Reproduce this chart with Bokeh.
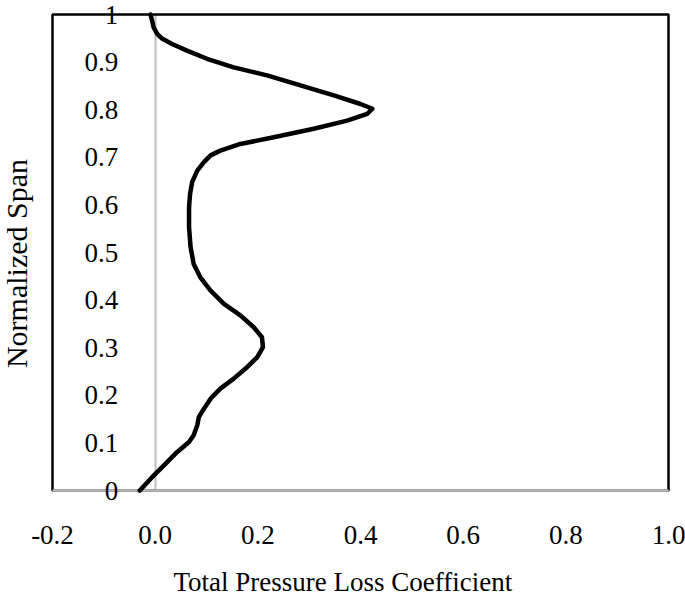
import math
from bokeh.plotting import figure
from bokeh.models import (LinearAxis, FixedTicker, Range1d, ColumnDataSource,
                          LabelSet, Label, BoxAnnotation)
from bokeh.embed import file_html
from bokeh.resources import INLINE

# Data (bottom to top)
span = [0.000, 0.028, 0.056, 0.081, 0.102, 0.116, 0.137, 0.154, 0.172, 0.193,
        0.214, 0.235, 0.259, 0.280, 0.301, 0.322, 0.343, 0.368, 0.392, 0.420,
        0.448, 0.476, 0.511, 0.553, 0.595, 0.623, 0.648, 0.672, 0.690, 0.704,
        0.714, 0.728, 0.742, 0.760, 0.777, 0.791, 0.802, 0.812, 0.830, 0.851,
        0.872, 0.889, 0.907, 0.924, 0.938, 0.949, 0.959, 0.973, 0.987, 1.000]
loss = [-0.030, -0.006, 0.020, 0.043, 0.066, 0.075, 0.082, 0.085, 0.095, 0.108,
        0.127, 0.153, 0.179, 0.199, 0.210, 0.208, 0.192, 0.166, 0.134, 0.108,
        0.088, 0.075, 0.069, 0.066, 0.066, 0.068, 0.072, 0.082, 0.095, 0.108,
        0.127, 0.166, 0.231, 0.309, 0.374, 0.413, 0.423, 0.400, 0.348, 0.283,
        0.218, 0.153, 0.101, 0.062, 0.033, 0.014, 0.004, -0.003, -0.006, -0.009]

x_min, x_max = -0.2, 1.0
y_min, y_max = 0.0, 1.0
x_ticks = [-0.2, 0.0, 0.2, 0.4, 0.6, 0.8, 1.0]
x_tick_labels = ["-0.2", "0.0", "0.2", "0.4", "0.6", "0.8", "1.0"]
y_ticks = [0, 0.1, 0.2, 0.3, 0.4, 0.5, 0.6, 0.7, 0.8, 0.9, 1.0]
y_tick_labels = ["0", "0.1", "0.2", "0.3", "0.4", "0.5", "0.6", "0.7", "0.8", "0.9", "1"]
y_axis_cross = 0.0
x_title = "Total Pressure Loss Coefficient"
y_title = "Normalized Span"

FONT = "Liberation Serif"
GRAY = "#bfbfbf"

# canvas geometry (pixels): plot box inside a full-canvas frame
W, H = 685, 600
LEFT_PX, RIGHT_PX, TOP_PX, BOTTOM_PX = 52, 17, 14, 110
xs = (x_max - x_min) / (W - LEFT_PX - RIGHT_PX)
ys = (y_max - y_min) / (H - TOP_PX - BOTTOM_PX)

p = figure(frame_width=W, frame_height=H, output_backend="svg", toolbar_location=None,
           x_range=Range1d(x_min - LEFT_PX * xs, x_max + RIGHT_PX * xs),
           y_range=Range1d(y_min - BOTTOM_PX * ys, y_max + TOP_PX * ys),
           x_axis_type=None, y_axis_type=None, min_border=0)
p.outline_line_color = None
p.background_fill_color = "white"
p.border_fill_color = "white"

# black plot-area box, then the gray horizontal axis line at y = 0 on top of it
p.add_layout(BoxAnnotation(left=x_min, right=x_max, bottom=y_min, top=y_max,
                           fill_alpha=0, line_color="black", line_alpha=1.0,
                           line_width=2.5, level="underlay"))
p.add_layout(BoxAnnotation(left=x_min, right=x_max, bottom=y_min, top=y_min,
                           fill_alpha=0, line_color=GRAY, line_alpha=1.0,
                           line_width=2.5, level="underlay"))

# gray vertical axis line at x = 0
ya = LinearAxis(ticker=FixedTicker(ticks=y_ticks), fixed_location=y_axis_cross, bounds=(y_min, y_max))
ya.axis_line_color = GRAY
ya.axis_line_width = 2
ya.major_tick_line_color = None
ya.minor_tick_line_color = None
ya.major_tick_out = 0
ya.major_tick_in = 0
ya.major_label_text_color = None
ya.major_label_text_font_size = "1px"
ya.level = "underlay"
p.add_layout(ya, "left")

# y tick labels next to the crossing axis
ysrc = ColumnDataSource(dict(x=[y_axis_cross] * len(y_ticks), y=y_ticks, t=y_tick_labels))
p.add_layout(LabelSet(x="x", y="y", text="t", source=ysrc, x_offset=-37,
                      text_align="right", text_baseline="middle",
                      text_font=FONT, text_font_size="27px", text_color="black"))

# x tick labels below the horizontal axis
xsrc = ColumnDataSource(dict(x=x_ticks, y=[y_min] * len(x_ticks), t=x_tick_labels))
p.add_layout(LabelSet(x="x", y="y", text="t", source=xsrc, y_offset=-44,
                      text_align="center", text_baseline="middle",
                      text_font=FONT, text_font_size="27px", text_color="black"))

p.line(loss, span, line_color="black", line_width=4.5, line_join="round", line_cap="round")

# axis titles
p.add_layout(Label(x=x_min, y=y_min, x_offset=121, y_offset=-91, text=x_title,
                   text_align="left", text_baseline="middle", text_font=FONT,
                   text_font_size="27px", text_color="black"))
p.add_layout(Label(x=x_min, y=y_min, x_offset=-36, y_offset=227, text=y_title,
                   angle=math.pi / 2, text_align="center", text_baseline="middle",
                   text_font=FONT, text_font_size="30px", text_color="black"))

open("out.html", "w").write(file_html(p, INLINE))
